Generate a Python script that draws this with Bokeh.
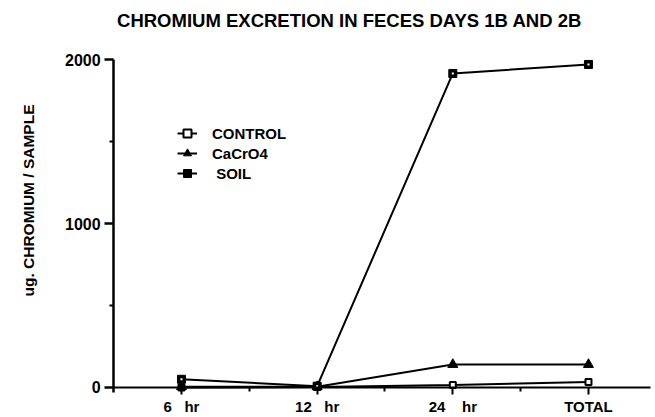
import math
from bokeh.plotting import figure
from bokeh.models import FixedTicker, Legend, LegendItem, Label, Range1d
from bokeh.embed import file_html
from bokeh.resources import INLINE

# ---- data ----
NB = "\u00a0"
categories = ["6" + NB * 2 + " hr", "12" + NB * 2 + " hr", "24" + NB * 3 + " hr", "TOTAL"]
control = [0, 3, 15, 34]
cacro4 = [5, 5, 140, 140]
soil = [50, 8, 1915, 1970]
y_ticks = [0, 1000, 2000]
y_minor_ticks = [500, 1500]
series_names = ["CONTROL", "CaCrO4", NB + "SOIL"]
title_text = "CHROMIUM EXCRETION IN FECES DAYS 1B AND 2B"
y_label_text = "ug. CHROMIUM / SAMPLE"

xs = list(range(1, len(categories) + 1))
x_minor = [x + 0.5 for x in xs[:-1]]

FONT = "Liberation Sans"
W, H = 655, 417

# The frame covers the whole canvas; axes sit inside it at fixed locations.
p = figure(width=W, height=H, output_backend="svg", toolbar_location=None,
           x_range=Range1d(-0.334, 4.494), y_range=Range1d(-183, 2360),
           min_border_left=0, min_border_right=0, min_border_top=0,
           min_border_bottom=0)
p.grid.visible = False
p.outline_line_color = None

# x axis, crossing at y = 0
xa = p.xaxis[0]
xa.fixed_location = 0
xa.bounds = (0.5, 4.457)
xa.ticker = FixedTicker(ticks=xs, minor_ticks=x_minor)
xa.major_label_overrides = {x: c for x, c in zip(xs, categories)}
xa.axis_line_color = "black"
xa.axis_line_width = 2
xa.major_tick_line_color = "black"
xa.minor_tick_line_color = "black"
xa.major_tick_line_width = 2
xa.minor_tick_line_width = 2
xa.major_tick_out = 7
xa.major_tick_in = 0
xa.minor_tick_out = 4
xa.minor_tick_in = 0
xa.major_label_standoff = 4
xa.major_label_text_color = "black"
xa.major_label_text_font = FONT
xa.major_label_text_font_style = "bold"
xa.major_label_text_font_size = "15px"

# y axis at the left end of the x axis
ya = p.yaxis[0]
ya.fixed_location = 0.5
ya.bounds = (-30, 2000)
ya.ticker = FixedTicker(ticks=y_ticks, minor_ticks=y_minor_ticks)
ya.axis_line_color = "black"
ya.axis_line_width = 2.5
ya.major_tick_line_color = "black"
ya.minor_tick_line_color = "black"
ya.major_tick_line_width = 2.5
ya.minor_tick_line_width = 2
ya.major_tick_out = 9
ya.major_tick_in = 0
ya.minor_tick_out = 4
ya.minor_tick_in = 0
ya.major_label_standoff = 4
ya.major_label_text_color = "black"
ya.major_label_text_font = FONT
ya.major_label_text_font_style = "bold"
ya.major_label_text_font_size = "16px"

p.add_layout(Label(x=349, y=H - 20, x_units="screen", y_units="screen",
                   text=title_text, text_align="center", text_baseline="middle",
                   text_font=FONT, text_font_style="bold",
                   text_font_size="18.5px", text_color="black"))

p.add_layout(Label(x=28, y=H - 200, x_units="screen", y_units="screen",
                   text=y_label_text, angle=math.pi / 2,
                   text_align="center", text_baseline="middle",
                   text_font=FONT, text_font_style="bold",
                   text_font_size="15.5px", text_color="black"))

# series
l_ctrl = p.line(xs, control, line_color="black", line_width=2)
l_ca = p.line(xs, cacro4, line_color="black", line_width=2)
l_soil = p.line(xs, soil, line_color="black", line_width=2)

m_ctrl = p.scatter(xs, control, marker="square", size=6, line_width=2,
                   line_color="black", fill_color="white")
m_ca = p.scatter(xs, cacro4, marker="triangle", size=10, line_width=1,
                 line_color="black", fill_color="black")
m_soil = p.scatter(xs, soil, marker="square", size=8, line_width=1,
                   line_color="black", fill_color="black")
m_soil_dot = p.scatter(xs, soil, marker="square", size=2, line_width=0,
                       line_color=None, fill_color="white")

legend = Legend(items=[
    LegendItem(label=series_names[0], renderers=[l_ctrl, m_ctrl]),
    LegendItem(label=series_names[1], renderers=[l_ca, m_ca]),
    LegendItem(label=series_names[2], renderers=[l_soil, m_soil]),
], location=(177, H - 183), orientation="vertical")
legend.glyph_width = 20
legend.glyph_height = 20
legend.label_height = 20
legend.spacing = 0
legend.padding = 0
legend.margin = 0
legend.label_standoff = 15
legend.border_line_color = None
legend.background_fill_alpha = 0
legend.label_text_color = "black"
legend.label_text_font = FONT
legend.label_text_font_style = "bold"
legend.label_text_font_size = "15px"
p.add_layout(legend, "center")

open("out.html", "w").write(file_html(p, INLINE))
